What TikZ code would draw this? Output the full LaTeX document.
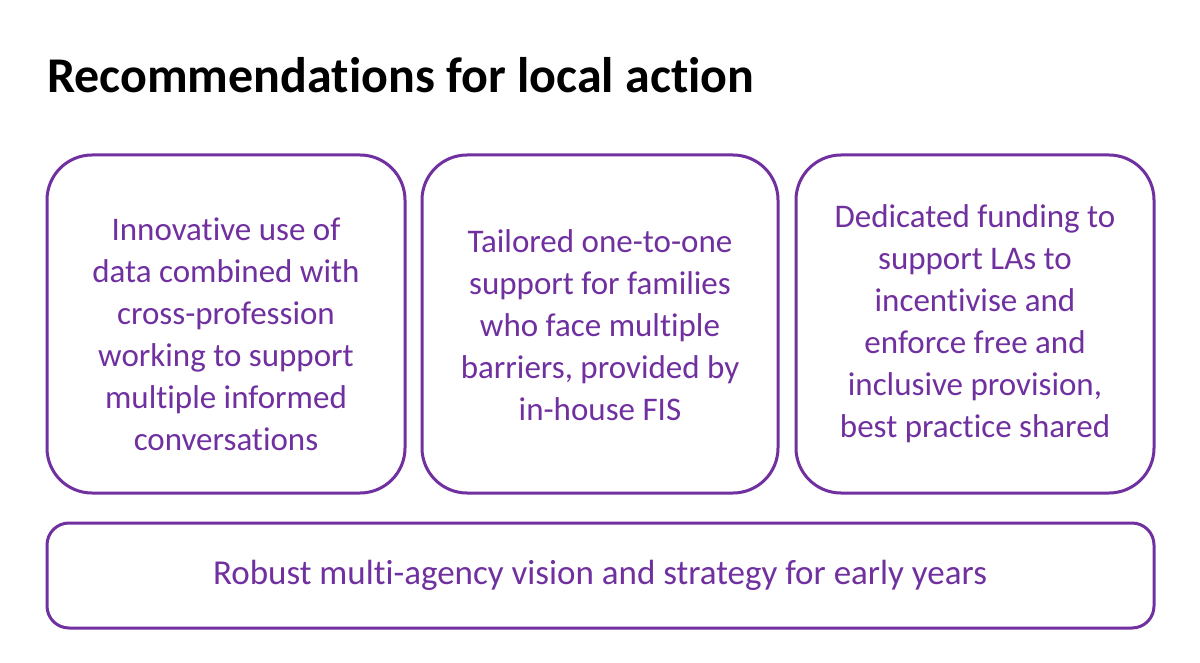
\documentclass[tikz,border=0pt]{standalone}
\usepackage{fontspec}
\setmainfont[Ligatures=NoCommon]{Carlito}
\definecolor{pur}{HTML}{7030A0}
\begin{document}
\begin{tikzpicture}[x=1pt,y=-1pt,
  card/.style={draw=pur,line width=3pt,rounded corners=45pt},
  txt/.style={text=pur,font=\fontsize{33}{42}\selectfont,align=center}]
\useasboundingbox[fill=white] (0,0) rectangle (1200,663);
\node[anchor=base west,font=\bfseries\fontsize{50}{56}\selectfont,inner sep=0pt] (title) at (47,93) {Recommendations for local action};
\draw[card] (47,155) rectangle (405,493);
\draw[card] (422,155) rectangle (778,493);
\draw[card] (796,155) rectangle (1154,493);
\draw[card,rounded corners=22pt] (47,523) rectangle (1154,628);
\node[txt] (t1) at (226,334) {Innovative use of\\data combined with\\cross-profession\\working to support\\multiple informed\\conversations};
\node[txt] (t2) at (600,325) {Tailored one-to-one\\support for families\\who face multiple\\barriers, provided by\\in-house FIS};
\node[txt] (t3) at (975,324) {Dedicated funding to\\support LAs to\\incentivise and\\enforce free and\\inclusive provision,\\best practice shared};
\node[txt,font=\fontsize{35}{42}\selectfont] (t4) at (600,575) {Robust multi-agency vision and strategy for early years};
\end{tikzpicture}
\end{document}
